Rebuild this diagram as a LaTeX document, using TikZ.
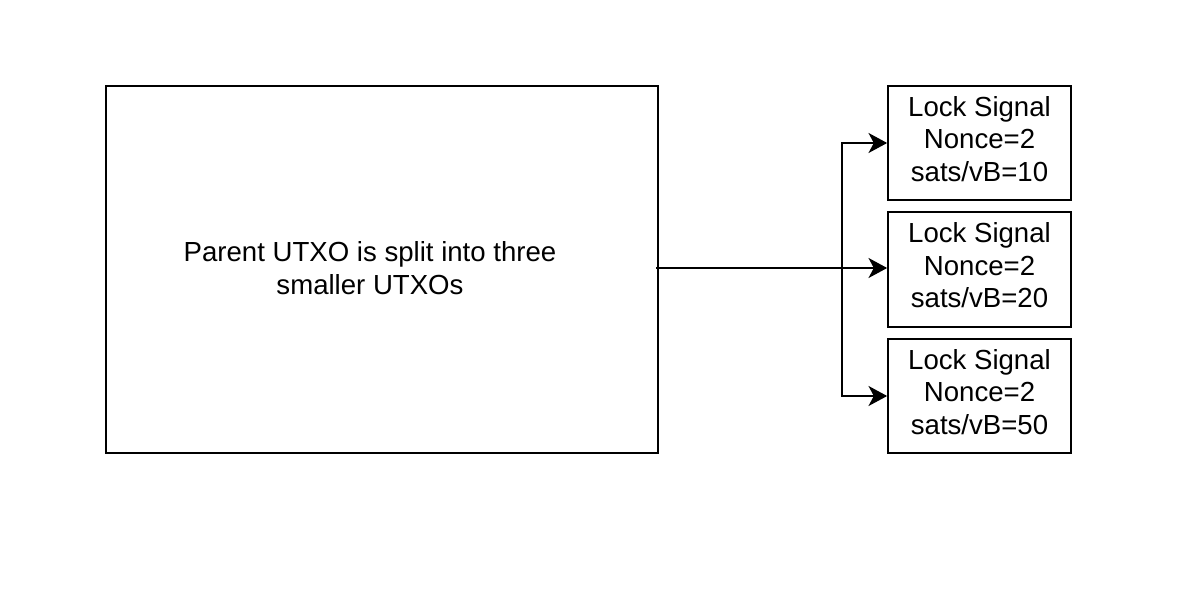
\documentclass[tikz,border=0pt]{standalone}
\usepackage{fontspec}
\setmainfont{Liberation Sans}
\usetikzlibrary{arrows.meta,positioning}

\begin{document}
\begin{tikzpicture}[
    x=0.75pt, y=-0.75pt,
    label text/.style={align=center, font=\fontsize{20.7}{24.4}\selectfont},
    box/.style={draw, line width=1.5pt, minimum width=137pt, minimum height=86pt, label text, inner sep=0pt, execute at end node={\rule[-6.5pt]{0pt}{0pt}}},
    arrow/.style={-{Stealth[length=14pt, width=15pt, inset=4pt]}, line width=1.5pt},
]
    \useasboundingbox (0,0) rectangle (1188,606);

    % Parent UTXO
    \draw[line width=1.5pt] (106,86) rectangle (658,453);
    \node[label text] (parent) at (370,268) {Parent UTXO is split into three\\smaller UTXOs};
    \coordinate (src) at (656,268);

    % Split outputs
    \node[box] (lock_a) at (979.5,143) {Lock Signal\\Nonce=2\\sats/vB=10};
    \node[box] (lock_b) at (979.5,269.5) {Lock Signal\\Nonce=2\\sats/vB=20};
    \node[box] (lock_c) at (979.5,396) {Lock Signal\\Nonce=2\\sats/vB=50};

    \coordinate (fork) at (842,268);
    \draw[arrow] (src) -- (lock_b.west |- src);
    \draw[arrow] (fork) |- (lock_a.west);
    \draw[arrow] (fork) |- (lock_c.west);

\end{tikzpicture}
\end{document}
